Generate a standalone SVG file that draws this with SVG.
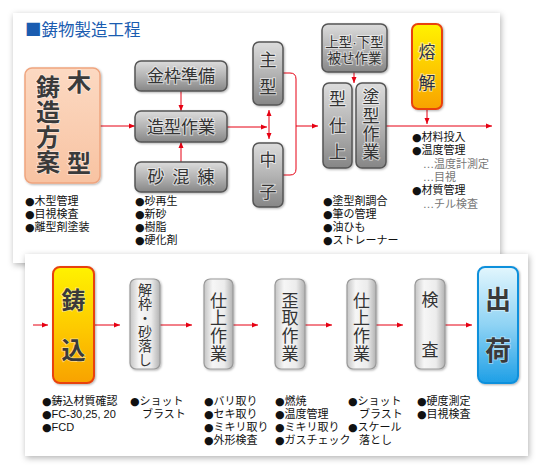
<svg xmlns="http://www.w3.org/2000/svg" width="540" height="472" viewBox="0 0 540 472">
<defs>
<filter id="sh" x="-5%" y="-5%" width="110%" height="115%"><feDropShadow dx="1" dy="2" stdDeviation="3" flood-color="#000" flood-opacity="0.3"/></filter>
<filter id="bs" x="-20%" y="-20%" width="140%" height="140%"><feDropShadow dx="1" dy="1" stdDeviation="1" flood-color="#000" flood-opacity="0.3"/></filter>
<linearGradient id="peach" x1="0" y1="0" x2="0" y2="1"><stop offset="0" stop-color="#fcd9c2"/><stop offset="1" stop-color="#f8c3a2"/></linearGradient>
<linearGradient id="gray" x1="0" y1="0" x2="0" y2="1"><stop offset="0" stop-color="#dcdcdc"/><stop offset="0.5" stop-color="#b4b4b4"/><stop offset="1" stop-color="#868686"/></linearGradient>
<linearGradient id="orange" x1="0" y1="0" x2="0" y2="1"><stop offset="0" stop-color="#fff200"/><stop offset="0.55" stop-color="#fdc800"/><stop offset="1" stop-color="#f8a200"/></linearGradient>
<linearGradient id="light" x1="0" y1="0" x2="1" y2="0"><stop offset="0" stop-color="#c4c4c4"/><stop offset="0.3" stop-color="#f6f6f6"/><stop offset="0.7" stop-color="#ececec"/><stop offset="1" stop-color="#b2b2b2"/></linearGradient>
<linearGradient id="blue" x1="0" y1="0" x2="0" y2="1"><stop offset="0" stop-color="#e2f6fd"/><stop offset="0.5" stop-color="#8fd3f4"/><stop offset="1" stop-color="#1e9fe6"/></linearGradient>
<marker id="ar" viewBox="0 0 6 6" markerWidth="6" markerHeight="6" refX="6" refY="3" orient="auto-start-reverse" markerUnits="userSpaceOnUse"><path d="M0,0.5 L6,3 L0,5.5 z" fill="#e60012"/></marker>
</defs>
<style>
.jp{font-family:"Noto Sans CJK JP","Noto Sans CJK SC",sans-serif;}
.gb{fill:url(#gray);stroke:#555;stroke-width:1.5;}
.lb{fill:url(#light);stroke:#999;stroke-width:1.2;}
.gt{font-family:"Noto Sans CJK JP",sans-serif;font-size:17px;fill:#333;stroke:#fff;stroke-width:2;stroke-opacity:0.55;paint-order:stroke;text-anchor:middle;}
.lt{font-family:"Noto Sans CJK JP",sans-serif;font-size:17px;fill:#333;text-anchor:middle;}
.bt{font-family:"Noto Sans CJK JP",sans-serif;font-size:24px;font-weight:bold;fill:#3a3a3a;stroke:#fff;stroke-width:1.5;stroke-opacity:0.5;paint-order:stroke;text-anchor:middle;}
.v{writing-mode:vertical-rl;text-orientation:upright;}
.li{font-family:"DejaVu Sans","Noto Sans CJK JP",sans-serif;font-size:11px;fill:#111;}
.sub{font-family:"DejaVu Sans","Noto Sans CJK JP",sans-serif;font-size:11px;fill:#777;}
.lat{font-family:"Liberation Sans",sans-serif;}
.cn{fill:none;stroke:#e60012;stroke-width:1;}
</style>
<rect width="540" height="472" fill="#fff"/>
<rect x="13" y="13" width="487" height="250" fill="#fff" filter="url(#sh)"/>
<text x="25" y="36" class="jp" font-size="16.5" fill="#1a5cb0">■鋳物製造工程</text>

<g id="connectors-top">
<path class="cn" d="M100,126 H135" marker-end="url(#ar)"/>
<path class="cn" d="M181,91 V111" marker-end="url(#ar)"/>
<path class="cn" d="M181,162 V142" marker-end="url(#ar)"/>
<path class="cn" d="M227,127 H267" marker-end="url(#ar)"/>
<path class="cn" d="M269,110 V139" marker-start="url(#ar)" marker-end="url(#ar)"/>
<path class="cn" d="M283,73 H290 Q296,73 296,79 V169 Q296,175 290,175 H283"/>
<path class="cn" d="M296,126 H318" marker-end="url(#ar)"/>
<path class="cn" d="M354,72 V83" marker-end="url(#ar)"/>
<path class="cn" d="M386,126 H492" marker-end="url(#ar)"/>
<path class="cn" d="M427,110 V124" marker-end="url(#ar)"/>
</g>

<g id="n-housan">
<rect x="25" y="68" width="75" height="115" rx="7" fill="url(#peach)" stroke="#efa57f" stroke-width="1.5" filter="url(#bs)"/>
<text class="bt v" x="48" y="125" letter-spacing="1">鋳造方案</text>
<text class="bt" x="79" y="91">木</text>
<text class="bt" x="79" y="172">型</text>
</g>
<g id="n-kanawaku">
<rect class="gb" x="135" y="61" width="92" height="30" rx="6" filter="url(#bs)"/>
<text class="gt" x="181" y="82">金枠準備</text>
</g>
<g id="n-zoukei">
<rect class="gb" x="135" y="111" width="92" height="31" rx="6" filter="url(#bs)"/>
<text class="gt" x="181" y="133">造型作業</text>
</g>
<g id="n-sakonren">
<rect class="gb" x="135" y="162" width="92" height="30" rx="6" filter="url(#bs)"/>
<text class="gt"><tspan x="156" y="183">砂</tspan><tspan x="181" y="183">混</tspan><tspan x="206" y="183">練</tspan></text>
</g>
<g id="n-omogata">
<rect class="gb" x="253" y="42" width="30" height="63" rx="6" filter="url(#bs)"/>
<text class="gt"><tspan x="268" y="66">主</tspan><tspan x="268" y="93">型</tspan></text>
</g>
<g id="n-nakago">
<rect class="gb" x="253" y="143" width="30" height="64" rx="6" filter="url(#bs)"/>
<text class="gt"><tspan x="268" y="166">中</tspan><tspan x="268" y="198">子</tspan></text>
</g>
<g id="n-kabuse">
<rect class="gb" x="322" y="24" width="65" height="48" rx="6" filter="url(#bs)"/>
<text class="gt" style="font-size:13.5px;font-family:'Liberation Sans','Noto Sans CJK JP',sans-serif"><tspan x="354.5" y="47">上型·下型</tspan><tspan x="354.5" y="63">被せ作業</tspan></text>
</g>
<g id="n-katashiage">
<rect class="gb" x="323" y="83" width="29" height="85" rx="6" filter="url(#bs)"/>
<text class="gt"><tspan x="337.5" y="105">型</tspan><tspan x="337.5" y="132">仕</tspan><tspan x="337.5" y="158">上</tspan></text>
</g>
<g id="n-tokei">
<rect class="gb" x="356" y="83" width="30" height="85" rx="6" filter="url(#bs)"/>
<text class="gt v" x="371" y="125" letter-spacing="1.3">塗型作業</text>
</g>
<g id="n-youkai">
<rect x="412" y="24" width="30" height="85" rx="6" fill="url(#orange)" stroke="#e8420a" stroke-width="2" filter="url(#bs)"/>
<text class="gt" style="fill:#2b2f45"><tspan x="427" y="58">熔</tspan><tspan x="427" y="89">解</tspan></text>
</g>

<g id="notes-top">
<text class="li"><tspan x="25" y="205">●木型管理</tspan><tspan x="25" y="218">●目視検査</tspan><tspan x="25" y="231">●離型剤塗装</tspan></text>
<text class="li"><tspan x="135" y="205">●砂再生</tspan><tspan x="135" y="218">●新砂</tspan><tspan x="135" y="231">●樹脂</tspan><tspan x="135" y="244">●硬化剤</tspan></text>
<text class="li"><tspan x="323" y="205">●塗型剤調合</tspan><tspan x="323" y="218">●筆の管理</tspan><tspan x="323" y="231">●油ひも</tspan><tspan x="323" y="244">●ストレーナー</tspan></text>
<text class="li"><tspan x="412" y="141">●材料投入</tspan><tspan x="412" y="154.3">●温度管理</tspan></text>
<text class="sub"><tspan x="423" y="167.6">…温度計測定</tspan><tspan x="423" y="180.9">…目視</tspan></text>
<text class="li"><tspan x="412" y="194.2">●材質管理</tspan></text>
<text class="sub"><tspan x="423" y="207.5">…チル検査</tspan></text>
</g>

<rect x="25" y="254" width="503" height="202" fill="#fff" filter="url(#sh)"/>

<g id="connectors-bottom">
<path class="cn" d="M33,325 H48" marker-end="url(#ar)"/>
<path class="cn" d="M94,325 H120" marker-end="url(#ar)"/>
<path class="cn" d="M160,325 H192" marker-end="url(#ar)"/>
<path class="cn" d="M233,325 H258" marker-end="url(#ar)"/>
<path class="cn" d="M305,325 H332" marker-end="url(#ar)"/>
<path class="cn" d="M376,325 H403" marker-end="url(#ar)"/>
<path class="cn" d="M445,325 H472" marker-end="url(#ar)"/>
</g>

<g id="n-ikomi">
<rect x="53" y="267" width="41" height="116" rx="7" fill="url(#orange)" stroke="#e8420a" stroke-width="2" filter="url(#bs)"/>
<text class="bt"><tspan x="73.5" y="309">鋳</tspan><tspan x="73.5" y="359">込</tspan></text>
</g>
<g id="n-kaiwaku">
<rect class="lb" x="130" y="279" width="30" height="90" rx="6" filter="url(#bs)"/>
<text class="lt v" x="145" y="325" style="font-size:14px">解枠・砂落し</text>
</g>
<g id="n-shiage1">
<rect class="lb" x="204" y="279" width="29" height="90" rx="6" filter="url(#bs)"/>
<text class="lt v" x="218.5" y="327" letter-spacing="0.7">仕上作業</text>
</g>
<g id="n-hizumi">
<rect class="lb" x="275" y="279" width="30" height="90" rx="6" filter="url(#bs)"/>
<text class="lt v" x="290" y="327" letter-spacing="0.7">歪取作業</text>
</g>
<g id="n-shiage2">
<rect class="lb" x="347" y="279" width="29" height="90" rx="6" filter="url(#bs)"/>
<text class="lt v" x="361.5" y="327" letter-spacing="0.7">仕上作業</text>
</g>
<g id="n-kensa">
<rect class="lb" x="415" y="279" width="30" height="90" rx="6" filter="url(#bs)"/>
<text class="lt"><tspan x="430" y="306">検</tspan><tspan x="430" y="356">査</tspan></text>
</g>
<g id="n-shukka">
<rect x="478" y="267" width="40" height="116" rx="7" fill="url(#blue)" stroke="#1190dc" stroke-width="2" filter="url(#bs)"/>
<text class="bt" style="font-size:26px"><tspan x="498" y="309">出</tspan><tspan x="498" y="360">荷</tspan></text>
</g>

<g id="notes-bottom">
<text class="li"><tspan x="42" y="405">●鋳込材質確認</tspan><tspan x="42" y="418">●<tspan class="lat">FC-30,25, 20</tspan></tspan><tspan x="42" y="431">●<tspan class="lat">FCD</tspan></tspan></text>
<text class="li"><tspan x="130" y="405">●ショット</tspan><tspan x="142" y="418">ブラスト</tspan></text>
<text class="li"><tspan x="204" y="405">●バリ取り</tspan><tspan x="204" y="418">●セキ取り</tspan><tspan x="204" y="431">●ミキリ取り</tspan><tspan x="204" y="444">●外形検査</tspan></text>
<text class="li"><tspan x="275" y="405">●燃焼</tspan><tspan x="275" y="418">●温度管理</tspan><tspan x="275" y="431">●ミキリ取り</tspan><tspan x="275" y="444">●ガスチェック</tspan></text>
<text class="li"><tspan x="348" y="405">●ショット</tspan><tspan x="359" y="418">ブラスト</tspan><tspan x="348" y="431">●スケール</tspan><tspan x="359" y="444">落とし</tspan></text>
<text class="li"><tspan x="417" y="405">●硬度測定</tspan><tspan x="417" y="418">●目視検査</tspan></text>
</g>
</svg>
